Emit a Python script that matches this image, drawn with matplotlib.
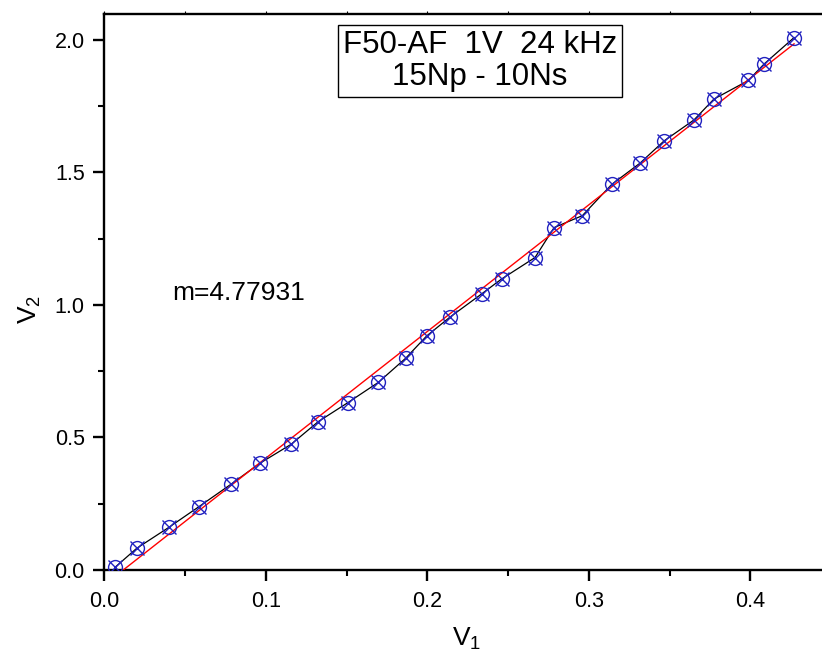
import matplotlib
matplotlib.use("Agg")
import matplotlib.pyplot as plt
import numpy as np
from matplotlib.ticker import MultipleLocator

plt.rcParams['font.family'] = ['Liberation Sans', 'DejaVu Sans']
plt.rcParams['mathtext.fontset'] = 'custom'
plt.rcParams['mathtext.rm'] = 'Liberation Sans'
plt.rcParams['mathtext.it'] = 'Liberation Sans'

v1 = [0.0066, 0.0201, 0.0400, 0.0586, 0.0783, 0.0964, 0.1156, 0.1325, 0.1507,
      0.1697, 0.1866, 0.1996, 0.2140, 0.2337, 0.2460, 0.2667, 0.2785, 0.2960,
      0.3142, 0.3317, 0.3466, 0.3651, 0.3775, 0.3988, 0.4085, 0.4271]
v2 = [0.010, 0.082, 0.161, 0.239, 0.323, 0.403, 0.474, 0.560, 0.631,
      0.708, 0.799, 0.883, 0.954, 1.042, 1.098, 1.179, 1.292, 1.337,
      1.455, 1.535, 1.619, 1.698, 1.777, 1.847, 1.909, 2.009]
slope = 4.77931
intercept = -0.056
title_lines = ["F50-AF  1V  24 kHz", "15Np - 10Ns"]
slope_label = "m=4.77931"
xtick_vals = [0.0, 0.1, 0.2, 0.3, 0.4]
xtick_labels = ['0.0', '0.1', '0.2', '0.3', '0.4']
ytick_vals = [0.0, 0.5, 1.0, 1.5, 2.0]
ytick_labels = ['0.0', '0.5', '1.0', '1.5', '2.0']

fig = plt.figure(figsize=(8.22, 6.56), dpi=100)
ax = fig.add_axes([0.1269, 0.1311, 0.8731, 0.8476])

x = np.array(v1)
ax.plot(x, np.array(v2), color='black', lw=0.9, zorder=2)
xf = np.array([x[0], x[-1]])
ax.plot(xf, slope * xf + intercept, color='red', lw=1.0, zorder=3)
mcol = '#2222c0'
ax.plot(x, v2, linestyle='none', marker='o', ms=10, mfc='none', mec=mcol, mew=1.0, zorder=4)
ax.plot(x, v2, linestyle='none', marker='x', ms=10.5, mec=mcol, mew=1.0, zorder=4)

ax.set_xlim(0, 0.4444)
ax.set_ylim(0, 2.098)
ax.xaxis.set_minor_locator(MultipleLocator(0.05))
ax.yaxis.set_minor_locator(MultipleLocator(0.25))
ax.set_xticks(xtick_vals)
ax.set_xticklabels(xtick_labels)
ax.set_yticks(ytick_vals)
ax.set_yticklabels(ytick_labels)

for s in ['left', 'bottom', 'top']:
    ax.spines[s].set_linewidth(1.7)
ax.spines['right'].set_visible(False)
ax.tick_params(which='major', direction='out', length=8, width=1.7, labelsize=15.5, pad=6)
ax.tick_params(which='minor', direction='out', length=4, width=1.5)
ax.tick_params(axis='x', which='both', top=True, labeltop=False)
ax.tick_params(axis='x', which='major', top=True, pad=7)
for t in ax.xaxis.get_major_ticks() + ax.xaxis.get_minor_ticks():
    t.tick2line.set_markersize(2)
    t.tick2line.set_markeredgewidth(0.8)

ax.set_xlabel(r'V$_{\mathregular{1}}$', fontsize=19)
ax.xaxis.set_label_coords(0.505, -0.100)
ax.set_ylabel(r'V$_{\mathregular{2}}$', fontsize=19)
ax.yaxis.set_label_coords(-0.085, 0.468)

ax.text(0.5235, 0.9155, title_lines[0] + "\n" + title_lines[1], transform=ax.transAxes,
        ha='center', va='center', fontsize=22.5, linespacing=1.1,
        bbox=dict(boxstyle='square,pad=0.15', fc='white', ec='black', lw=1.0))
ax.text(0.0943, 0.498, slope_label, transform=ax.transAxes, ha='left', va='center', fontsize=19)

fig.savefig('out.png', dpi=100)
